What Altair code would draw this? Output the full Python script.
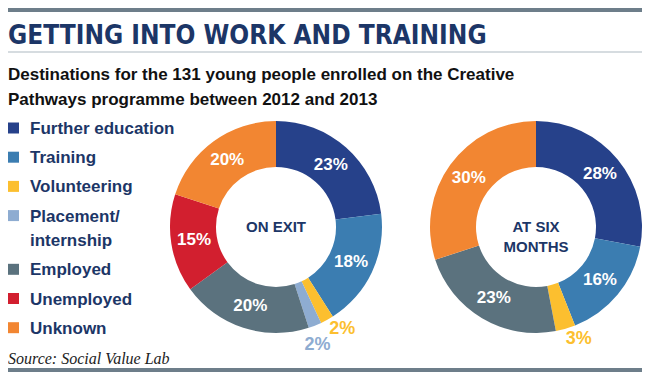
import math
import altair as alt
import pandas as pd

# ---- text ----
title_text = "GETTING INTO WORK AND TRAINING"
subtitle_lines = [
    "Destinations for the 131 young people enrolled on the Creative",
    "Pathways programme between 2012 and 2013",
]
source_text = "Source: Social Value Lab"

# ---- data ----
categories = ["Further education", "Training", "Volunteering", "Placement/internship",
              "Employed", "Unemployed", "Unknown"]
legend_labels = ["Further education", "Training", "Volunteering", "Placement/|internship",
                 "Employed", "Unemployed", "Unknown"]
colors = ["#26418a", "#3b7db1", "#fcbf2f", "#8eacd1", "#5b727e", "#d21f2f", "#f28632"]
stages = ["ON EXIT", "AT SIX MONTHS"]
center_labels = ["ON EXIT", "AT SIX|MONTHS"]
on_exit_pct = [23, 18, 2, 2, 20, 15, 20]
six_months_pct = [28, 16, 3, 0, 23, 0, 30]

NAVY = "#1c3667"
SANS = "Liberation Sans, Arial, sans-serif"
COND = "DejaVu Sans Condensed, DejaVu Sans, sans-serif"
SERIF = "Liberation Serif, Times New Roman, serif"

rows = []
for stage, vals in zip(stages, [on_exit_pct, six_months_pct]):
    for i, (cat, v) in enumerate(zip(categories, vals)):
        if v > 0:
            rows.append({"stage": stage, "category": cat, "idx": i, "value": v, "label": f"{v}%"})
df = pd.DataFrame(rows)

legend_df = pd.DataFrame({"category": categories, "legend": legend_labels,
                          "idx": list(range(len(categories)))})
center_df = pd.DataFrame({"stage": stages, "center": center_labels})
one = pd.DataFrame({"k": [0]})

W, H = 634, 364
CY = 219
R_OUT, R_IN = 106, 60

theta_scale = alt.Scale(domain=[0, 100], range=[0, 2 * math.pi])
x_scale = alt.Scale(type="point", domain=stages, range=[268, 528], padding=0)
color_scale = alt.Scale(domain=categories, range=colors)
X = alt.X("stage:N", scale=x_scale, axis=None)

base = alt.Chart(df).transform_window(
    cum="sum(value)", sort=[alt.SortField("idx")], groupby=["stage"], frame=[None, 0]
).transform_calculate(
    start="datum.cum - datum.value", mid="datum.cum - datum.value / 2"
)

arcs = base.mark_arc(innerRadius=R_IN, outerRadius=R_OUT).encode(
    x=X, y=alt.value(CY),
    theta=alt.Theta("start:Q", scale=theta_scale, stack=None),
    theta2="cum:Q",
    color=alt.Color("category:N", scale=color_scale, legend=None),
)

inside = base.transform_filter("datum.value >= 5").mark_text(
    radius=83, font=SANS, fontWeight="bold", fontSize=17, color="white", baseline="middle"
).encode(
    x=X, y=alt.value(CY),
    theta=alt.Theta("mid:Q", scale=theta_scale, stack=None),
    text="label:N",
)


def outside(stage, cat, dx, dy):
    return base.transform_filter(
        f"datum.stage == '{stage}' && datum.category == '{cat}'"
    ).mark_text(
        radius=121, font=SANS, fontWeight="bold", fontSize=18, baseline="middle", dx=dx, dy=dy
    ).encode(
        x=X, y=alt.value(CY),
        theta=alt.Theta("mid:Q", scale=theta_scale, stack=None),
        text="label:N",
        color=alt.Color("category:N", scale=color_scale, legend=None),
    )


out1 = outside("ON EXIT", "Volunteering", 8, -4)
out2 = outside("ON EXIT", "Placement/internship", -3, 5)
out3 = outside("AT SIX MONTHS", "Volunteering", 9, -4)

centers = alt.Chart(center_df).transform_calculate(
    lines="split(datum.center, '|')"
).mark_text(
    font=SANS, fontWeight="bold", fontSize=15, color=NAVY, baseline="middle", lineHeight=20
).encode(x=X, y=alt.value(CY), text="lines:N")

# ---- legend ----
y_leg = alt.Y("slot:Q", scale=alt.Scale(domain=[0, 6.84], range=[120, 319.7], zero=False, nice=False),
              axis=None)
leg_base = alt.Chart(legend_df).transform_calculate(
    slot="datum.idx + (datum.idx > 3 ? 0.84 : 0)",
    lines="split(datum.legend, '|')",
)
leg_sq = leg_base.mark_square(size=121, opacity=1, filled=True).encode(
    x=alt.value(5.5), y=y_leg,
    color=alt.Color("category:N", scale=color_scale, legend=None),
)
leg_tx = leg_base.mark_text(
    align="left", baseline="alphabetic", dy=6, lineHeight=24,
    font=SANS, fontWeight="bold", fontSize=17, color=NAVY,
).encode(x=alt.value(22), y=y_leg, text="lines:N")


# ---- titles, rules, source ----
def txt(text, x, y, **kw):
    return alt.Chart(pd.DataFrame({"t": [text]})).mark_text(
        align="left", baseline="alphabetic", **kw
    ).encode(x=alt.value(x), y=alt.value(y), text="t:N")


def rule(y, sw, color):
    return alt.Chart(one).mark_rule(strokeWidth=sw, color=color).encode(
        x=alt.value(0), x2=alt.value(W), y=alt.value(y)
    )


title = txt(title_text, 0, 36, font=COND, fontWeight="bold", fontSize=26, color=NAVY)
sub1 = txt(subtitle_lines[0], 0, 72, font=SANS, fontWeight="bold", fontSize=17, color="#111111")
sub2 = txt(subtitle_lines[1], 0, 97, font=SANS, fontWeight="bold", fontSize=17, color="#111111")
source = txt(source_text, 0, 356, font=SERIF, fontStyle="italic", fontSize=16, color="#222222")

chart = alt.layer(
    rule(2, 4, "#6d7e8a"), rule(44, 1.5, "#c9d0d6"), rule(362, 4, "#6d7e8a"),
    title, sub1, sub2,
    arcs, inside, out1, out2, out3, centers,
    leg_sq, leg_tx, source,
).properties(
    width=W, height=H, padding=0, autosize=alt.AutoSizeParams(type="none")
).configure_view(stroke=None)

chart.save("out.html", embed_options={"renderer": "svg", "actions": False})
